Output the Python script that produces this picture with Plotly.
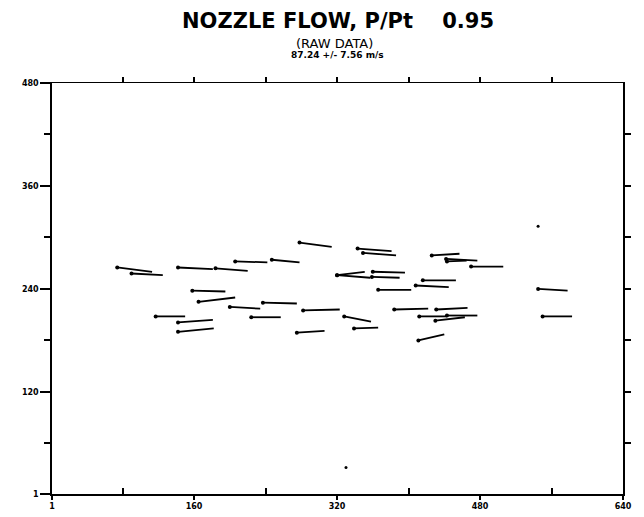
import plotly.graph_objects as go

# Vector origins (arrow head end, drawn with a blob) and tails, in data units
x_start = [74, 90, 142, 184, 206, 247, 278, 158, 165, 200, 237, 282, 117, 142, 142, 224, 275,
           343, 349, 426, 442, 443, 470, 320, 320, 359, 360, 416, 366, 408, 545, 384, 431, 328,
           412, 443, 430, 339, 411, 550]
y_start = [265, 258, 265, 264, 272, 274, 294, 238, 225, 219, 224, 215, 208, 201, 190, 207, 189,
           287, 282, 279, 275, 272, 266, 256, 256, 254, 260, 250, 239, 244, 240, 216, 216, 208,
           208, 209, 203, 194, 180, 208]
x_end = [113, 125, 181, 220, 242, 278, 314, 195, 206, 234, 275, 323, 150, 181, 182, 257, 306,
         381, 386, 457, 477, 465, 506, 351, 357, 390, 396, 453, 403, 445, 578, 422, 466, 358,
         443, 477, 463, 366, 440, 583]
y_end = [260, 256, 263, 261, 271, 271, 289, 237, 230, 217, 223, 216, 208, 204, 194, 207, 191,
         284, 279, 281, 273, 273, 266, 260, 253, 253, 259, 250, 239, 242, 238, 217, 218, 202,
         208, 209, 207, 195, 187, 208]

# isolated points (near-zero vectors)
dot_x = [545, 330]
dot_y = [313, 32]

x_ticks = [1, 160, 320, 480, 640]
x_minor = [80, 240, 400, 560]
y_ticks = [1, 120, 240, 360, 480]
y_minor = [60, 180, 300, 420]
top_ticks = [80, 160, 240, 320, 400, 480, 560]
right_ticks = [60, 120, 180, 240, 300, 360, 420]

title = "NOZZLE FLOW, P/Pt    0.95"
sub1 = "(RAW DATA)"
sub2 = "87.24 +/- 7.56 m/s"

lx, ly = [], []
for a, b, c, d in zip(x_start, y_start, x_end, y_end):
    lx += [a, c, None]
    ly += [b, d, None]

fig = go.Figure()
fig.add_trace(go.Scatter(x=lx, y=ly, mode="lines",
                         line=dict(color="black", width=1.8), hoverinfo="skip",
                         showlegend=False))
fig.add_trace(go.Scatter(x=x_start, y=y_start, mode="markers",
                         marker=dict(color="black", size=4, symbol="circle"),
                         showlegend=False))
fig.add_trace(go.Scatter(x=dot_x, y=dot_y, mode="markers",
                         marker=dict(color="black", size=3),
                         showlegend=False))
# helper trace for the top/right axes
fig.add_trace(go.Scatter(x=[None], y=[None], xaxis="x2", yaxis="y2",
                         mode="markers", showlegend=False))

tickfont = dict(family="DejaVu Sans", size=8, color="black", weight="bold")

fig.update_layout(
    width=644, height=517,
    margin=dict(l=52, r=21, t=83, b=23),
    paper_bgcolor="white", plot_bgcolor="white",
    font=dict(family="DejaVu Sans", color="black"),
    xaxis=dict(range=[1, 640], tickmode="array", tickvals=x_ticks,
               ticktext=[str(v) for v in x_ticks], automargin=False,
               ticks="outside", ticklen=4, tickwidth=1.5, tickcolor="black",
               showline=True, linewidth=1.5, linecolor="black",
               showgrid=False, zeroline=False, tickfont=tickfont,
               minor=dict(tickmode="array", tickvals=x_minor, ticks="inside",
                          ticklen=6, tickwidth=1.5, tickcolor="black", showgrid=False)),
    yaxis=dict(range=[1, 480], tickmode="array", tickvals=y_ticks,
               ticktext=[str(v) for v in y_ticks], automargin=False,
               ticks="outside", ticklen=10, tickwidth=1.5, tickcolor="black",
               showline=True, linewidth=1.5, linecolor="black",
               showgrid=False, zeroline=False, tickfont=tickfont,
               minor=dict(tickmode="array", tickvals=y_minor, ticks="outside",
                          ticklen=6, tickwidth=1.5, tickcolor="black", showgrid=False)),
    xaxis2=dict(range=[1, 640], overlaying="x", side="top", anchor="y2",
                tickmode="array", tickvals=top_ticks, showticklabels=False,
                automargin=False,
                ticks="outside", ticklen=5, tickwidth=1.5, tickcolor="black",
                showline=True, linewidth=1.2, linecolor="black",
                showgrid=False, zeroline=False),
    yaxis2=dict(range=[1, 480], overlaying="y", side="right", anchor="x2",
                tickmode="array", tickvals=right_ticks, showticklabels=False,
                automargin=False,
                ticks="outside", ticklen=6, tickwidth=1.5, tickcolor="black",
                showline=True, linewidth=1.5, linecolor="black",
                showgrid=False, zeroline=False),
    annotations=[
        dict(text="<b>" + title + "</b>", x=0.5, y=1.151, xref="paper", yref="paper",
             xanchor="center", yanchor="middle", showarrow=False,
             font=dict(family="DejaVu Sans", size=21, color="black")),
        dict(text=sub1, x=0.495, y=1.097, xref="paper", yref="paper",
             xanchor="center", yanchor="middle", showarrow=False,
             font=dict(family="DejaVu Sans", size=13, color="black")),
        dict(text="<b>" + sub2 + "</b>", x=0.5, y=1.068, xref="paper", yref="paper",
             xanchor="center", yanchor="middle", showarrow=False,
             font=dict(family="DejaVu Sans", size=9, color="black")),
    ],
)

fig.write_html("out.html", config={"displayModeBar": False},
               post_script="document.body.style.margin='0';")
